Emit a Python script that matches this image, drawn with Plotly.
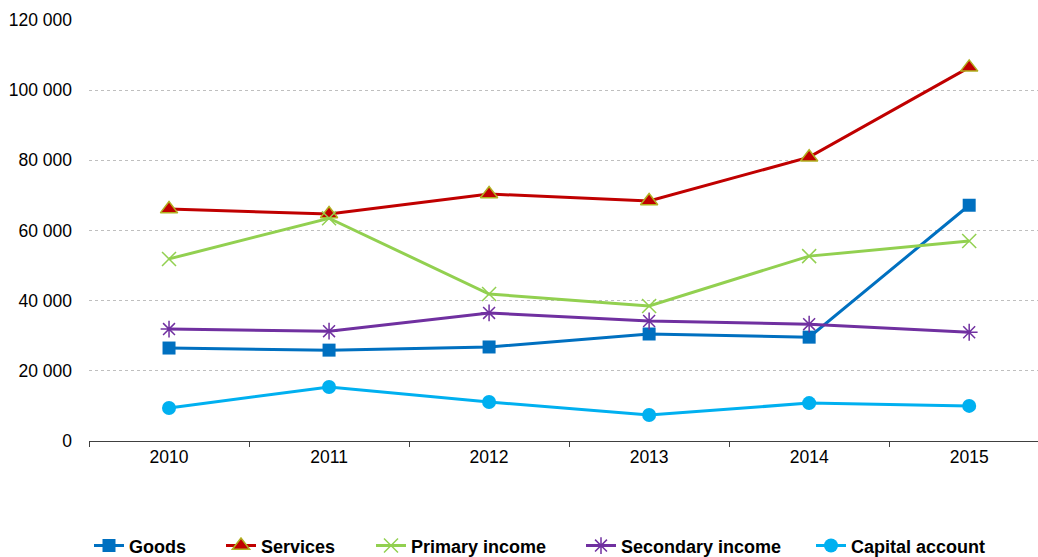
import plotly.graph_objects as go

years = ["2010", "2011", "2012", "2013", "2014", "2015"]
goods = [26500, 25900, 26800, 30500, 29600, 67200]
services = [66100, 64700, 70400, 68400, 80900, 106500]
primary_income = [51900, 63500, 41900, 38500, 52700, 57000]
secondary_income = [31900, 31300, 36500, 34200, 33300, 31000]
capital_account = [9400, 15400, 11100, 7400, 10800, 10000]
y_ticks = [0, 20000, 40000, 60000, 80000, 100000, 120000]

fig = go.Figure()
fig.add_trace(go.Scatter(x=years, y=goods, name="Goods", mode="lines+markers", legend="legend",
                         line=dict(color="#0070C0", width=3),
                         marker=dict(symbol="square", size=13, color="#0070C0")))
fig.add_trace(go.Scatter(x=years, y=services, name="Services", mode="lines+markers", legend="legend2",
                         line=dict(color="#C00000", width=3),
                         marker=dict(symbol="triangle-up", size=15, color="#C00000",
                                     line=dict(color="#B0B020", width=1.5))))
fig.add_trace(go.Scatter(x=years, y=primary_income, name="Primary income", mode="lines+markers", legend="legend3",
                         line=dict(color="#92D050", width=3),
                         marker=dict(symbol="x-thin-open", size=14, color="#92D050",
                                     line=dict(color="#92D050", width=1.5))))
fig.add_trace(go.Scatter(x=years, y=secondary_income, name="Secondary income", mode="lines+markers", legend="legend4",
                         line=dict(color="#7030A0", width=3),
                         marker=dict(symbol="asterisk-open", size=14, color="#7030A0",
                                     line=dict(color="#7030A0", width=1.5))))
fig.add_trace(go.Scatter(x=years, y=capital_account, name="Capital account", mode="lines+markers", legend="legend5",
                         line=dict(color="#00B0F0", width=3),
                         marker=dict(symbol="circle", size=14, color="#00B0F0")))

legend_font = dict(size=18, family="Liberation Sans, Arial, sans-serif", weight="bold", color="#000000")
legend_x = [89, 221, 371, 581, 811]
legend_common = dict(orientation="h", xref="container", xanchor="left", yref="container",
                     y=0.02, yanchor="middle", font=legend_font, bgcolor="rgba(0,0,0,0)")

fig.update_layout(
    width=1038, height=557,
    margin=dict(l=89, r=0, t=20, b=116, autoexpand=False),
    paper_bgcolor="white", plot_bgcolor="white",
    separators=". ",
    font=dict(family="Liberation Sans, Arial, sans-serif", size=17.5, color="#000000"),
    showlegend=True,
    legend=dict(x=legend_x[0] / 1038, **legend_common),
    legend2=dict(x=legend_x[1] / 1038, **legend_common),
    legend3=dict(x=legend_x[2] / 1038, **legend_common),
    legend4=dict(x=legend_x[3] / 1038, **legend_common),
    legend5=dict(x=legend_x[4] / 1038, **legend_common),
)
fig.update_xaxes(type="category", range=[-0.5, 5.43], tickson="boundaries", ticks="outside",
                 ticklen=5, tickcolor="#404040", showline=True, linecolor="#404040", linewidth=1,
                 showgrid=False, tickfont=dict(size=17.5))
fig.update_yaxes(range=[0, 120000], tickvals=y_ticks, tickformat=",d",
                 showgrid=True, gridcolor="#BFBFBF", griddash="dot", gridwidth=1,
                 zeroline=False, showline=False, ticks="", ticklabelstandoff=16,
                 tickfont=dict(size=17.5))

fig.write_html("out.html")
